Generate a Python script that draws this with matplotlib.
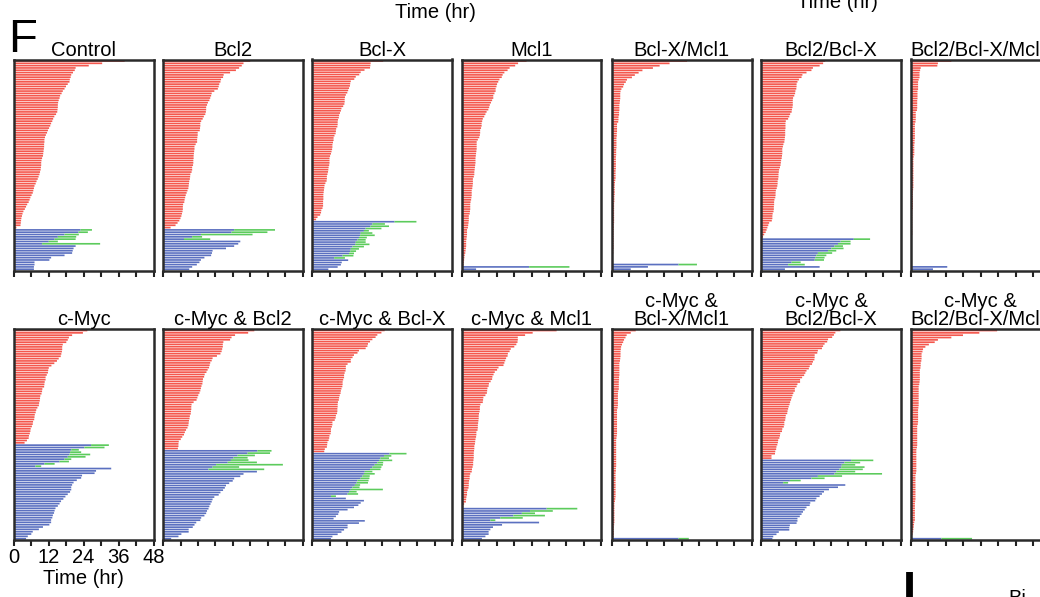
import matplotlib
matplotlib.use("Agg")
import matplotlib.pyplot as plt

plt.rcParams['font.family'] = ['Liberation Sans', 'DejaVu Sans']

# ---- per-panel data (hours). red = cell death time, blue = division time, green = daughter death
ctrl_red = [38.1, 30.4, 25.8, 21.3, 21.0, 20.4, 19.8, 19.6, 19.3, 19.2, 18.6, 18.0, 17.5, 16.9, 16.5,
            16.0, 15.8, 15.5, 15.3, 15.2, 15.2, 15.1, 15.0, 14.6, 14.0, 13.6, 13.3, 12.9, 12.6, 12.2,
            11.8, 11.5, 11.1, 10.8, 10.6, 10.6, 10.5, 10.5, 10.4, 10.3, 10.2, 10.1, 9.8, 9.6, 9.5,
            9.5, 9.4, 9.3, 9.1, 8.9, 8.6, 8.3, 7.9, 7.6, 7.2, 7.0, 6.8, 6.6, 6.2, 5.8, 5.5, 5.2, 4.7,
            4.3, 3.9, 3.4, 3.1, 2.9, 2.7, 2.6, 2.5, 2.4, 1.0]
ctrl_blue = [23.0, 22.3, 17.5, 15.2, 14.1, 12.1, 9.8, 21.3, 20.6, 20.3, 20.1, 17.5, 12.9, 12.3,
             7.2, 7.2, 7.0, 7.0]
ctrl_green = [26.9, 25.5, 22.4, 21.5, 21.3, 15.2, 29.7]

bcl2_red = [29.9, 27.6, 27.0, 26.1, 25.0, 23.0, 20.8, 20.6, 19.9, 19.7, 19.3, 19.1, 18.8, 17.6, 16.7,
            16.5, 16.2, 15.9, 15.4, 15.1, 14.8, 14.8, 14.7, 14.5, 14.0, 13.6, 13.1, 12.8, 12.8, 12.7,
            12.6, 11.9, 11.9, 11.8, 11.7, 11.7, 11.2, 10.8, 10.8, 10.7, 10.6, 10.5, 10.5, 10.4, 10.4,
            10.3, 10.0, 10.0, 9.8, 9.4, 9.3, 9.2, 9.0, 8.9, 8.8, 8.7, 8.4, 8.1, 7.8, 7.6, 7.4, 7.3,
            6.9, 6.8, 6.8, 6.7, 6.5, 6.3, 6.0, 5.6, 5.0, 4.3, 2.6]
bcl2_blue = [24.4, 23.5, 13.0, 10.0, 7.2, 26.5, 25.8, 24.4, 21.6, 17.0, 16.8, 16.5, 14.2, 13.0,
             12.5, 11.6, 10.0, 9.0]
bcl2_green = [38.4, 35.8, 30.7, 13.4, 16.2]

bclx_red = [24.4, 20.1, 20.0, 19.9, 18.0, 16.7, 16.2, 15.0, 14.5, 13.3, 13.1, 13.0, 12.7, 12.4, 12.1,
            11.6, 11.3, 11.2, 11.2, 11.1, 10.7, 10.1, 9.9, 9.6, 9.3, 9.2, 8.9, 8.8, 8.8, 8.7, 8.3,
            8.2, 8.1, 7.7, 7.4, 7.4, 7.2, 7.0, 7.0, 6.9, 6.7, 6.5, 6.2, 6.0, 6.0, 6.0, 5.9, 5.7, 5.6,
            5.5, 5.3, 5.1, 5.1, 5.0, 4.6, 4.3, 4.2, 4.1, 4.0, 3.9, 3.9, 3.9, 3.8, 3.8, 3.8, 3.6, 3.2,
            3.1, 2.8, 1.9, 1.4]
bclx_blue = [28.3, 20.7, 20.1, 18.4, 17.8, 16.7, 16.5, 16.1, 15.6, 15.0, 14.8, 13.9, 13.3, 13.1,
             12.7, 10.5, 7.6, 12.4, 10.2, 9.9, 8.8, 5.6]
bclx_green = [35.8, 25.0, 26.4, 23.8, 19.5, 20.7, 21.5, 18.8, 18.4, 18.4, 19.7, 17.8, 16.1, 15.1,
              14.4, 14.2, 11.3]

mcl1_red = [22.3, 19.4, 18.4, 16.5, 15.8, 14.7, 14.1, 13.8, 13.0, 12.6, 12.2, 12.0, 11.7, 11.7, 11.3,
            10.9, 10.9, 10.5, 10.1, 9.7, 9.5, 9.2, 8.6, 8.2, 7.8, 7.3, 7.1, 6.9, 6.9, 6.7, 6.4, 6.4,
            6.3, 6.1, 5.6, 5.2, 5.2, 5.2, 5.2, 5.1, 5.0, 4.9, 4.8, 4.8, 4.8, 4.7, 4.6, 4.5, 4.4, 4.4,
            4.2, 3.9, 3.9, 3.9, 3.8, 3.7, 3.5, 3.5, 3.5, 3.4, 3.3, 3.1, 3.0, 3.0, 3.0, 2.9, 2.8, 2.5,
            2.5, 2.5, 2.4, 2.3, 2.2, 1.9, 1.9, 1.9, 1.8, 1.7, 1.6, 1.6, 1.6, 1.5, 1.4, 1.3, 1.1, 1.0,
            0.9, 0.8, 0.7]
mcl1_blue = [23.2, 5.0]
mcl1_green = [37.0]

bclx_mcl1_red = [25.9, 19.9, 16.5, 14.2, 10.6, 9.3, 8.0, 7.0, 5.3, 4.9, 4.3, 4.0, 3.4, 3.1, 3.0, 3.0,
                 3.0, 2.9, 2.8, 2.7, 2.7, 2.7, 2.6, 2.6, 2.4, 2.4, 2.3, 1.9, 1.9, 1.9, 1.9, 1.8, 1.8,
                 1.7, 1.7, 1.7, 1.7, 1.7, 1.6, 1.6, 1.6, 1.5, 1.5, 1.5, 1.5, 1.5, 1.5, 1.4, 1.4, 1.4,
                 1.4, 1.3, 1.2, 1.1, 1.1, 1.1, 1.1, 1.1, 1.0, 1.0, 1.0, 0.9, 0.9, 0.9, 0.9, 0.9, 0.9,
                 0.9, 0.9, 0.9, 0.8, 0.8, 0.8, 0.7, 0.7, 0.7, 0.7, 0.7, 0.7, 0.7, 0.7, 0.6, 0.6, 0.5,
                 0.5, 0.5, 0.5]
bclx_mcl1_blue = [23.0, 12.5, 6.6]
bclx_mcl1_green = [29.3]

bcl2_bclx_red = [22.0, 21.3, 20.1, 17.8, 17.3, 15.6, 14.2, 13.9, 13.0, 12.5, 12.2, 12.2, 12.1, 11.8,
                 11.7, 11.4, 11.0, 10.9, 10.9, 10.9, 10.8, 10.6, 10.5, 10.0, 9.7, 9.3, 8.5, 8.4, 8.4,
                 8.4, 8.3, 8.3, 8.3, 8.2, 8.1, 8.0, 7.7, 7.5, 7.3, 7.3, 7.3, 7.2, 7.1, 6.9, 6.8, 6.7,
                 6.5, 6.2, 6.1, 6.0, 6.0, 5.9, 5.7, 5.7, 5.6, 5.4, 5.1, 5.0, 5.0, 4.9, 4.6, 4.5, 4.5,
                 4.4, 4.4, 4.3, 4.0, 3.9, 3.9, 3.7, 2.8, 2.5, 2.2, 1.9, 1.6, 1.1, 0.7]
bcl2_bclx_blue = [31.8, 27.3, 26.4, 25.2, 24.1, 23.0, 19.5, 19.0, 18.6, 18.4, 10.5, 9.3, 20.1, 8.2]
bcl2_bclx_green = [37.4, 30.7, 30.7, 28.1, 28.3, 25.8, 24.4, 22.4, 21.8, 21.6, 13.6, 15.0]

bcl2_bclx_mcl1_red = [14.0, 9.4, 9.2, 3.5, 3.3, 3.1, 3.1, 3.1, 2.8, 2.6, 2.6, 2.6, 2.6, 2.4, 2.4, 2.4,
                      2.4, 2.3, 2.3, 2.3, 2.3, 2.2, 1.8, 1.8, 1.8, 1.8, 1.7, 1.5, 1.5, 1.5, 1.5, 1.5,
                      1.5, 1.5, 1.4, 1.4, 1.3, 1.3, 1.3, 1.3, 1.3, 1.1, 1.0, 1.0, 1.0, 1.0, 1.0, 1.0,
                      1.0, 1.0, 1.0, 1.0, 1.0, 1.0, 1.0, 0.9, 0.8, 0.8, 0.8, 0.8, 0.8, 0.8, 0.8, 0.8,
                      0.6, 0.6, 0.6, 0.6, 0.6, 0.6, 0.6, 0.6, 0.6, 0.6, 0.6, 0.5, 0.4, 0.4, 0.3, 0.3,
                      0.3, 0.3, 0.3, 0.3, 0.3, 0.3, 0.3, 0.3]
bcl2_bclx_mcl1_blue = [12.6, 7.7]
bcl2_bclx_mcl1_green = []

myc_red = [25.3, 23.8, 20.1, 19.0, 18.6, 18.1, 16.9, 16.7, 16.7, 16.6, 16.4, 16.2, 15.5, 14.9, 14.0,
           13.0, 12.1, 11.9, 11.8, 11.4, 11.0, 11.0, 10.7, 10.6, 10.5, 9.9, 9.8, 9.6, 9.2, 9.1, 9.0,
           8.8, 8.7, 8.2, 7.8, 7.6, 7.3, 7.2, 7.1, 6.7, 6.6, 6.3, 5.9, 5.8, 5.6, 5.3, 5.2, 4.6, 3.8]
myc_blue = [26.6, 24.3, 19.8, 19.4, 19.2, 18.6, 17.5, 15.8, 10.6, 7.5, 33.5, 28.3, 27.8, 23.5, 23.2,
            21.7, 20.6, 20.1, 19.8, 19.8, 19.4, 18.6, 17.8, 17.1, 16.3, 15.8, 15.2, 14.4, 14.1, 13.9,
            13.5, 13.3, 12.9, 12.9, 12.3, 10.1, 8.7, 6.6, 6.1, 4.9, 4.3]
myc_green = [32.7, 31.2, 22.4, 23.2, 26.3, 24.7, 19.8, 19.0, 14.1, 9.5]

myc_bcl2_red = [31.3, 29.2, 24.7, 23.5, 23.0, 20.7, 20.5, 20.5, 20.3, 20.1, 19.7, 18.5, 17.0, 16.7,
                16.2, 16.0, 15.8, 15.3, 14.9, 14.3, 14.1, 13.7, 13.6, 13.5, 13.2, 13.0, 12.8, 12.5,
                12.1, 11.8, 11.5, 10.5, 9.8, 9.7, 9.7, 9.6, 9.5, 9.2, 9.1, 8.9, 8.8, 8.7, 8.4, 7.9,
                7.5, 7.2, 6.6, 6.1, 5.4, 5.3, 5.3, 5.1]
myc_bcl2_blue = [32.4, 29.0, 25.6, 24.2, 23.3, 22.2, 18.2, 17.0, 15.6, 32.2, 27.6, 26.5, 24.4, 23.9,
                 22.7, 21.6, 21.2, 20.6, 19.7, 19.1, 17.6, 17.0, 16.7, 16.3, 15.9, 15.6, 15.1, 14.8,
                 14.2, 13.1, 12.8, 11.4, 10.8, 10.2, 8.8, 8.8, 6.3, 5.3, 2.8]
myc_bcl2_green = [37.2, 36.7, 31.5, 29.0, 29.3, 32.2, 41.1, 26.1, 34.7]

myc_bclx_red = [24.9, 23.8, 22.4, 21.8, 20.7, 19.9, 19.2, 19.0, 18.4, 16.1, 15.6, 14.4, 13.9, 13.3,
                13.3, 12.2, 11.6, 11.6, 11.5, 11.2, 11.0, 11.0, 10.7, 10.5, 10.5, 10.4, 10.1, 9.9,
                9.8, 9.5, 9.3, 9.2, 8.9, 8.8, 8.8, 8.7, 8.7, 8.6, 8.2, 8.1, 7.8, 7.0, 7.0, 6.8, 6.5,
                6.5, 6.4, 6.0, 5.9, 5.7, 5.3, 5.2, 5.1, 4.4, 4.2]
myc_bclx_blue = [26.6, 24.7, 23.5, 23.0, 22.4, 21.5, 20.7, 19.9, 18.1, 17.8, 17.3, 16.7, 15.6, 15.3,
                 14.7, 13.9, 13.3, 12.7, 12.2, 6.5, 11.6, 17.8, 16.7, 15.9, 14.4, 12.2, 9.3, 9.0, 8.2,
                 7.4, 18.1, 16.1, 12.2, 12.2, 11.0, 10.1, 8.8, 7.0, 6.5]
myc_bclx_green = [32.4, 27.2, 26.4, 27.5, 24.4, 24.3, 23.8, 23.5, 20.7, 21.5, 19.8, 19.7, 19.4, 19.2,
                  16.5, 16.3, 24.3, 15.3, 15.8, 8.2]

myc_mcl1_red = [32.6, 24.4, 21.8, 19.3, 19.3, 19.2, 18.8, 18.1, 16.9, 16.5, 15.9, 15.8, 15.3, 15.0,
                14.7, 14.4, 12.7, 12.2, 11.4, 11.0, 10.6, 10.5, 10.0, 9.4, 9.3, 8.9, 8.8, 8.7, 8.2,
                7.5, 7.4, 7.3, 6.5, 6.3, 6.3, 6.2, 6.0, 5.9, 5.9, 5.8, 5.7, 5.6, 5.6, 5.5, 5.1, 5.1,
                5.0, 4.8, 4.7, 4.6, 4.4, 4.4, 4.3, 4.2, 4.2, 4.2, 4.1, 4.0, 4.0, 3.8, 3.6, 3.5, 3.0,
                2.8, 2.8, 2.6, 2.5, 2.5, 2.4, 2.1, 1.9, 1.9, 1.7, 1.6, 1.5, 0.9, 0.6]
myc_mcl1_blue = [29.2, 23.5, 20.7, 17.8, 13.3, 9.9, 26.6, 13.9, 10.8, 9.9, 9.3, 9.3, 8.2, 7.0]
myc_mcl1_green = [39.7, 31.3, 25.2, 28.6, 21.0, 11.6]

myc_bclx_mcl1_red = [8.3, 6.6, 5.2, 4.8, 4.3, 4.0, 3.6, 3.3, 3.2, 3.1, 3.1, 3.1, 3.0, 2.9, 2.7, 2.7,
                     2.7, 2.7, 2.7, 2.7, 2.6, 2.6, 2.5, 2.5, 2.5, 2.5, 2.3, 2.2, 2.2, 2.2, 2.2, 2.2,
                     2.2, 2.1, 1.9, 1.9, 1.9, 1.9, 1.9, 1.9, 1.9, 1.9, 1.9, 1.9, 1.9, 1.8, 1.7, 1.6,
                     1.6, 1.6, 1.6, 1.6, 1.6, 1.6, 1.6, 1.6, 1.6, 1.6, 1.6, 1.5, 1.5, 1.4, 1.4, 1.4,
                     1.4, 1.4, 1.4, 1.4, 1.4, 1.4, 1.4, 1.4, 1.3, 1.2, 1.0, 1.0, 1.0, 1.0, 1.0, 1.0,
                     1.0, 1.0, 1.0, 0.9, 0.8, 0.8, 0.8, 0.8, 0.7]
myc_bclx_mcl1_blue = [23.0]
myc_bclx_mcl1_green = [26.5]

myc_bcl2_bclx_red = [27.2, 25.5, 25.0, 24.4, 23.0, 22.7, 21.8, 21.3, 20.9, 19.5, 19.3, 18.4, 18.4,
                     18.3, 17.8, 17.5, 16.7, 16.4, 15.6, 15.2, 14.8, 14.1, 13.4, 13.4, 12.5, 12.2,
                     11.6, 11.6, 11.1, 10.8, 10.5, 10.3, 10.0, 9.8, 9.5, 9.3, 9.1, 9.0, 8.5, 8.4, 8.3,
                     8.0, 8.0, 7.8, 7.3, 7.2, 6.6, 6.5, 6.3, 5.9, 5.8, 5.6, 5.3, 5.2, 4.9, 4.8, 3.6,
                     3.6]
myc_bcl2_bclx_blue = [30.9, 28.6, 27.7, 27.5, 26.9, 25.8, 25.2, 19.5, 17.3, 9.9, 7.6, 28.9, 26.4, 23.3,
                      21.6, 20.9, 20.1, 19.0, 18.6, 16.9, 16.7, 15.6, 15.0, 14.4, 13.9, 13.3, 12.5,
                      12.5, 12.2, 9.9, 9.7, 9.7, 6.1, 5.3, 4.2, 3.9]
myc_bcl2_bclx_green = [38.5, 34.0, 32.3, 35.5, 34.9, 32.3, 41.5, 27.8, 21.8, 13.6, 9.3]

myc_bcl2_bclx_mcl1_red = [29.7, 23.6, 18.0, 14.0, 9.4, 8.3, 6.3, 5.1, 4.3, 4.1, 3.8, 3.8, 3.8, 3.7,
                          3.5, 3.5, 3.4, 3.2, 3.2, 3.2, 3.2, 3.2, 3.1, 3.0, 2.8, 2.8, 2.8, 2.8, 2.8,
                          2.8, 2.8, 2.8, 2.8, 2.7, 2.6, 2.6, 2.6, 2.6, 2.6, 2.6, 2.5, 2.3, 2.3, 2.3,
                          2.3, 2.3, 2.3, 2.3, 2.3, 2.3, 2.2, 2.0, 2.0, 2.0, 2.0, 2.0, 2.0, 2.0, 2.0,
                          2.0, 2.0, 1.9, 1.7, 1.7, 1.7, 1.7, 1.7, 1.7, 1.7, 1.7, 1.7, 1.7, 1.7, 1.6,
                          1.5, 1.5, 1.5, 1.5, 1.5, 1.5, 1.5, 1.5, 1.3, 1.2, 1.1, 1.0, 0.9, 0.7, 0.5]
myc_bcl2_bclx_mcl1_blue = [10.6]
myc_bcl2_bclx_mcl1_green = [21.1]

titles_top = ["Control", "Bcl2", "Bcl-X", "Mcl1", "Bcl-X/Mcl1", "Bcl2/Bcl-X", "Bcl2/Bcl-X/Mcl1"]
titles_bot = ["c-Myc", "c-Myc & Bcl2", "c-Myc & Bcl-X", "c-Myc & Mcl1", "c-Myc &\nBcl-X/Mcl1",
              "c-Myc &\nBcl2/Bcl-X", "c-Myc &\nBcl2/Bcl-X/Mcl1"]

PANELS = [
    (0, 0, ctrl_red, ctrl_blue, ctrl_green),
    (0, 1, bcl2_red, bcl2_blue, bcl2_green),
    (0, 2, bclx_red, bclx_blue, bclx_green),
    (0, 3, mcl1_red, mcl1_blue, mcl1_green),
    (0, 4, bclx_mcl1_red, bclx_mcl1_blue, bclx_mcl1_green),
    (0, 5, bcl2_bclx_red, bcl2_bclx_blue, bcl2_bclx_green),
    (0, 6, bcl2_bclx_mcl1_red, bcl2_bclx_mcl1_blue, bcl2_bclx_mcl1_green),
    (1, 0, myc_red, myc_blue, myc_green),
    (1, 1, myc_bcl2_red, myc_bcl2_blue, myc_bcl2_green),
    (1, 2, myc_bclx_red, myc_bclx_blue, myc_bclx_green),
    (1, 3, myc_mcl1_red, myc_mcl1_blue, myc_mcl1_green),
    (1, 4, myc_bclx_mcl1_red, myc_bclx_mcl1_blue, myc_bclx_mcl1_green),
    (1, 5, myc_bcl2_bclx_red, myc_bcl2_bclx_blue, myc_bcl2_bclx_green),
    (1, 6, myc_bcl2_bclx_mcl1_red, myc_bcl2_bclx_mcl1_blue, myc_bcl2_bclx_mcl1_green),
]

RED, BLUE, GREEN = "#f4574d", "#5b70c0", "#5ccb5c"
FW, FH = 1040, 597
LEFTS = [13.5, 163, 312, 461.5, 611.5, 761, 910.5]
TOPS = [59.5, 329]
W, H = 140, 211
BH = 0.72
FS = 14.5

fig = plt.figure(figsize=(FW / 100, FH / 100), dpi=100)
for row, col, red, blue, green in PANELS:
    ax = fig.add_axes([LEFTS[col] / FW, 1 - (TOPS[row] + H) / FH, W / FW, H / FH])
    nr = len(red); n = nr + len(blue)
    ax.barh(range(nr), red, height=BH, color=RED, lw=0, snap=False)
    yb = [nr + i for i in range(len(blue))]
    ax.barh(yb, blue, height=BH, color=BLUE, lw=0, snap=False)
    for i, g in enumerate(green):
        if g > 0:
            ax.barh(nr + i, g - blue[i], left=blue[i], height=BH, color=GREEN, lw=0, snap=False)
    ax.set_xlim(0, 48); ax.set_ylim(n - 0.45, -0.65)
    ax.set_yticks([])
    ax.set_xticks(range(0, 49, 6))
    ax.tick_params(axis='x', direction='out', length=4, width=1.5, color='#222', labelsize=FS, pad=2)
    if row == 1 and col == 0:
        ax.set_xticklabels(["0", "", "12", "", "24", "", "36", "", "48"])
        ax.set_xlabel("Time (hr)", fontsize=FS, labelpad=1)
    else:
        ax.set_xticklabels([])
    for s in ax.spines.values():
        s.set_linewidth(1.8); s.set_color('#2a2a2a')
    title = titles_top[col] if row == 0 else titles_bot[col]
    ax.set_title(title, fontsize=FS, pad=2, linespacing=0.95)

fig.text(8 / FW, 1 - 52 / FH, "F", fontsize=34, va='baseline')
fig.text(435 / FW, 1 - 13 / FH, "Time (hr)", fontsize=FS, ha='center', va='center')
fig.text(837 / FW, 1 - 8 / FH, "Time (hr)", fontsize=FS, ha='center', va='baseline')
fig.text(903 / FW, 1 - 604 / FH, "I", fontsize=34, fontweight='bold', va='baseline')
fig.text(1008 / FW, 1 - 604 / FH, "Bi", fontsize=FS, va='baseline')

fig.savefig("out.png", dpi=100)
